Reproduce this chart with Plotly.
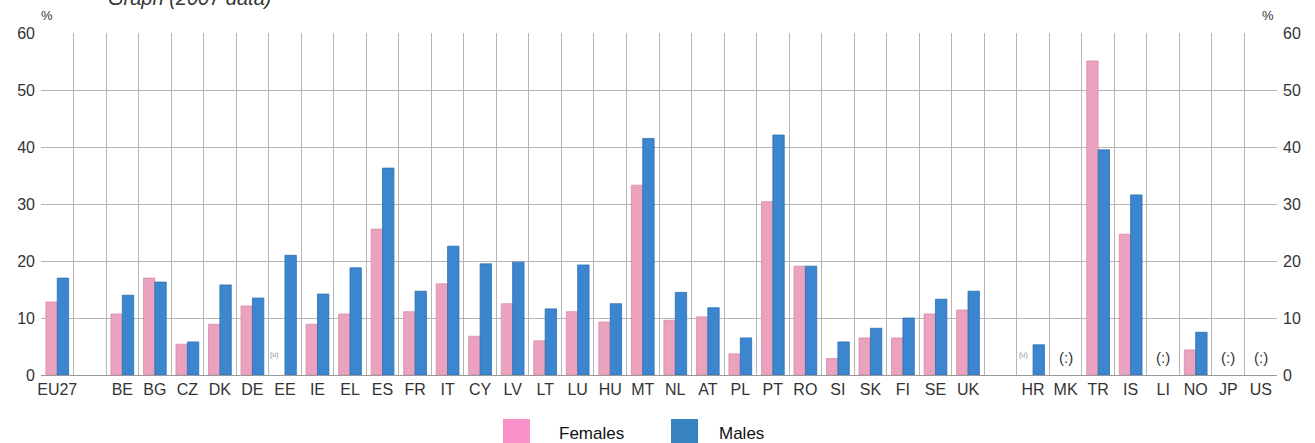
import plotly.graph_objects as go

categories = ["EU27", " ", "BE", "BG", "CZ", "DK", "DE", "EE", "IE", "EL", "ES", "FR", "IT",
              "CY", "LV", "LT", "LU", "HU", "MT", "NL", "AT", "PL", "PT", "RO", "SI", "SK",
              "FI", "SE", "UK", "  ", "HR", "MK", "TR", "IS", "LI", "NO", "JP", "US"]

females = [12.8, None, 10.7, 17.0, 5.4, 8.9, 12.1, None, 8.9, 10.7, 25.6, 11.1, 16.0,
           6.8, 12.5, 6.0, 11.1, 9.3, 33.3, 9.6, 10.2, 3.7, 30.4, 19.1, 2.9, 6.5,
           6.5, 10.7, 11.4, None, None, None, 55.1, 24.7, None, 4.4, None, None]

males = [17.0, None, 14.0, 16.3, 5.8, 15.8, 13.5, 21.0, 14.2, 18.8, 36.3, 14.7, 22.6,
         19.5, 19.8, 11.6, 19.3, 12.5, 41.5, 14.5, 11.8, 6.5, 42.1, 19.1, 5.8, 8.2,
         10.0, 13.3, 14.7, None, 5.3, None, 39.5, 31.6, None, 7.5, None, None]

y_ticks = [0, 10, 20, 30, 40, 50, 60]

not_available = ["MK", "LI", "JP", "US"]
unreliable_female = ["EE", "HR"]

PINK = "#eba2bf"
BLUE = "#3b86cf"
TXT = "#333333"
GRID = "#b5b5b5"
FONT = "Liberation Sans"

L, R, T, B = 41, 38, 33, 68
W, H = 1315, 443
PW, PH = W - L - R, H - T - B


def px_x(px):
    return (px - L) / PW


def px_y(py):
    return (H - B - py) / PH


fig = go.Figure()
fig.add_trace(go.Bar(x=categories, y=females, name="Females", marker_color=PINK,
                     marker_line=dict(color="#d98cab", width=0.8), showlegend=False))
fig.add_trace(go.Bar(x=categories, y=males, name="Males", marker_color=BLUE,
                     marker_line=dict(color="#2f70b0", width=0.8), showlegend=False))
# invisible trace to render the right-hand axis
fig.add_trace(go.Scatter(x=categories, y=males, yaxis="y2", mode="markers",
                         marker=dict(opacity=0), hoverinfo="skip", showlegend=False))

annotations = []
for c in not_available:
    annotations.append(dict(x=c, y=3.0, xref="x", yref="y", text="(:)", showarrow=False,
                            font=dict(family=FONT, size=15, color=TXT)))
for c in unreliable_female:
    annotations.append(dict(x=c, y=3.5, xref="x", yref="y", text="(u)", showarrow=False,
                            xshift=-10, font=dict(family=FONT, size=7, color="#888888")))

# "%" unit labels
annotations.append(dict(x=px_x(47), y=px_y(15), xref="paper", yref="paper", text="%",
                        showarrow=False, xanchor="center", yanchor="middle",
                        font=dict(family=FONT, size=13, color=TXT)))
annotations.append(dict(x=px_x(1268), y=px_y(15), xref="paper", yref="paper", text="%",
                        showarrow=False, xanchor="center", yanchor="middle",
                        font=dict(family=FONT, size=13, color=TXT)))
# partially cut title
annotations.append(dict(x=px_x(106), y=px_y(-2), xref="paper", yref="paper",
                        text="<i>Graph (2007 data)</i>", showarrow=False, xanchor="left",
                        yanchor="middle", font=dict(family=FONT, size=20, color=TXT)))

# custom legend
shapes = []
legend_items = [("Females", "#f891c8", 503, 557), ("Males", "#3783c0", 671, 717)]
for name, col, sx, tx in legend_items:
    shapes.append(dict(type="rect", xref="paper", yref="paper",
                       x0=px_x(sx), x1=px_x(sx + 27),
                       y0=px_y(446), y1=px_y(419),
                       fillcolor=col, line=dict(width=0)))
    annotations.append(dict(x=px_x(tx), y=px_y(433), xref="paper", yref="paper",
                            text=name, showarrow=False, xanchor="left", yanchor="middle",
                            font=dict(family=FONT, size=17, color="#111111")))

fig.update_layout(
    width=W, height=H,
    margin=dict(l=L, r=R, t=T, b=B),
    paper_bgcolor="white", plot_bgcolor="white",
    barmode="group", bargap=0.3, bargroupgap=0,
    font=dict(family=FONT, size=15, color=TXT),
    xaxis=dict(type="category", categoryorder="array", categoryarray=categories,
               range=[-0.5, len(categories) - 0.5],
               tickson="boundaries", showgrid=True, gridcolor=GRID, gridwidth=1,
               ticks="", showline=True, linecolor="#999999", linewidth=1,
               tickfont=dict(family=FONT, size=16, color=TXT), tickangle=0),
    yaxis=dict(range=[0, 60], tickvals=y_ticks, showgrid=True, gridcolor=GRID, gridwidth=1,
               zeroline=False, ticks="", ticklabelstandoff=5,
               tickfont=dict(family=FONT, size=16, color=TXT), showline=False),
    yaxis2=dict(range=[0, 60], tickvals=y_ticks, overlaying="y", side="right", showgrid=False,
                zeroline=False, ticks="", ticklabelstandoff=5,
                tickfont=dict(family=FONT, size=16, color=TXT), showline=False),
    annotations=annotations,
    shapes=shapes,
)

fig.write_html("out.html", config={"displayModeBar": False},
               post_script="document.body.style.margin='0px';")
